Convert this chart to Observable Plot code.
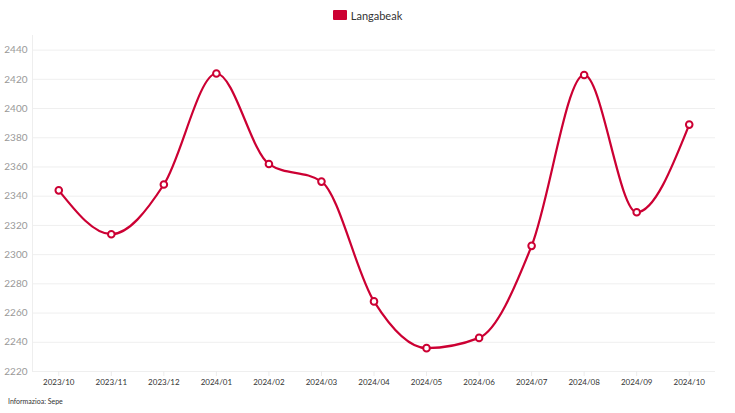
<!DOCTYPE html>
<html><head><meta charset="utf-8">
<script src="https://cdn.jsdelivr.net/npm/d3@7"></script>
<script src="https://cdn.jsdelivr.net/npm/@observablehq/plot@0.6"></script>
<style>
body{margin:0;background:#fff;font-family:Lato,"Open Sans",sans-serif;}
#legend{height:30px;display:flex;align-items:center;justify-content:center;font-size:11px;color:#333;}
#legend span.sw{display:inline-block;width:14px;height:10px;background:#cc0033;margin-right:4px;border-radius:1px;}
#caption{font-size:7px;color:#333;padding-left:8px;margin-top:2px;}
</style></head><body>
<div id="legend"><span class="sw"></span>Langabeak</div>
<div id="chart"></div>
<div id="caption">Informazioa: Sepe</div>
<script>
const months = ["2023/10","2023/11","2023/12","2024/01","2024/02","2024/03","2024/04","2024/05","2024/06","2024/07","2024/08","2024/09","2024/10"];
const langabeak = [2344,2314,2348,2424,2362,2350,2268,2236,2243,2306,2423,2329,2389];
const yTicks = [2220,2240,2260,2280,2300,2320,2340,2360,2380,2400,2420,2440];
const data = months.map((m,i)=>({m, v: langabeak[i]}));
const color = "#cc0033";
const plot = Plot.plot({
  width: 735, height: 365,
  marginLeft: 32, marginRight: 20, marginTop: 5, marginBottom: 24,
  style: {fontFamily: "Lato, 'Open Sans', sans-serif", background: "#fff"},
  x: {type: "point", domain: months, padding: 0.5, round: false, label: null},
  y: {domain: [2220, 2450], label: null},
  marks: [
    Plot.gridY(yTicks, {stroke: "#efefef", strokeOpacity: 1}),
    Plot.frame({anchor: "left", stroke: "#eeeeee"}),
    Plot.axisY(yTicks, {tickSize: 0, tickPadding: 5, fill: "#999", fontSize: 10, tickFormat: d => String(d)}),
    Plot.axisX(months, {tickSize: 5, stroke: "#ececec", tickPadding: 3, fill: "#333", fontSize: 8}),
    Plot.line(data, {x: "m", y: "v", stroke: color, strokeWidth: 2.2, curve: "monotone-x"}),
    Plot.dot(data, {x: "m", y: "v", r: 3.3, fill: "#fff", stroke: color, strokeWidth: 2})
  ]
});
document.getElementById("chart").appendChild(plot);
</script>
</body></html>
